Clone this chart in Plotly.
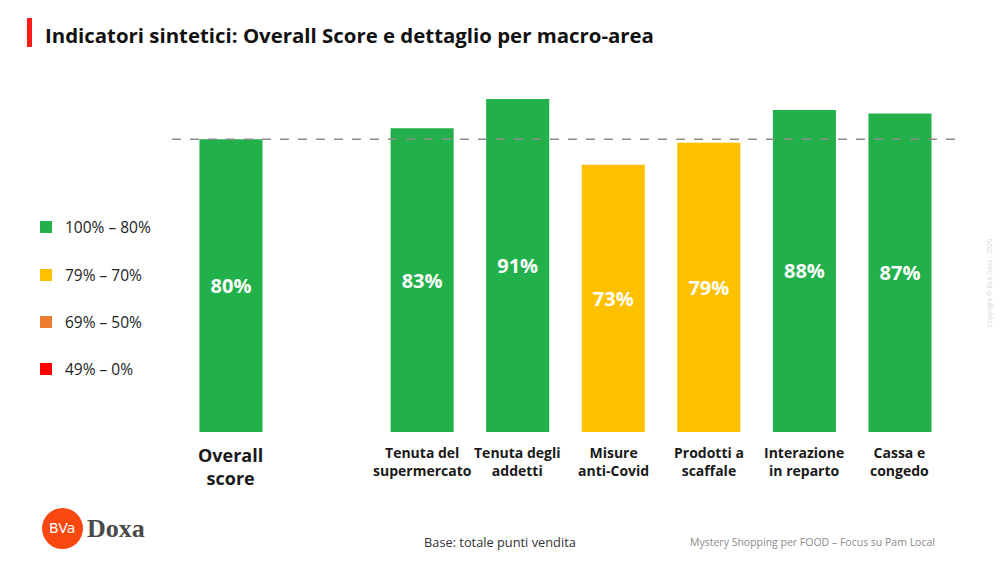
import plotly.graph_objects as go

# ---- data ----
categories = ["Overall score", "Tenuta del supermercato", "Tenuta degli addetti",
              "Misure anti-Covid", "Prodotti a scaffale", "Interazione in reparto",
              "Cassa e congedo"]
label_lines = [["Overall", "score"], ["Tenuta del", "supermercato"], ["Tenuta degli", "addetti"],
               ["Misure", "anti-Covid"], ["Prodotti a", "scaffale"], ["Interazione", "in reparto"],
               ["Cassa e", "congedo"]]
scores = [80, 83, 91, 73, 79, 88, 87]
benchmark = 80
legend_labels = ["100% – 80%", "79% – 70%", "69% – 50%", "49% – 0%"]
legend_colors = ["#22B04B", "#FFC000", "#ED7D31", "#FF0000"]
thresholds = [80, 70, 50, 0]

def color_for(v):
    for t, c in zip(thresholds, legend_colors):
        if v >= t:
            return c
    return legend_colors[-1]

# overall at slot 0, one empty slot, then the macro-areas
xpos = [0] + [i + 1 for i in range(1, len(categories))]

FONT = "Open Sans"
W, H = 1000, 563

fig = go.Figure()
fig.add_trace(go.Bar(
    x=xpos, y=scores, width=0.66,
    marker=dict(color=[color_for(v) for v in scores], line=dict(width=0)),
    text=[f"<b>{v}%</b>" for v in scores],
    textposition="inside", insidetextanchor="middle", textangle=0,
    textfont=dict(family=FONT, size=20, color="white"),
    hoverinfo="skip", cliponaxis=False,
))

shapes = []
annotations = []

# dashed benchmark line
shapes.append(dict(type="line", xref="paper", yref="y", x0=172 / W, x1=960 / W,
                   y0=benchmark, y1=benchmark,
                   line=dict(color="#8C8C8C", width=1.5, dash="dash")))

# category labels under bars
for i, (x, lines) in enumerate(zip(xpos, label_lines)):
    big = (i == 0)
    annotations.append(dict(
        x=x, y=0, xref="x", yref="y", yanchor="top", xanchor="center",
        yshift=-9 if big else -9,
        text="<b>" + "<br>".join(lines) + "</b>", showarrow=False, align="center",
        font=dict(family=FONT, size=18 if big else 14, color="#1A1A1A")))

# legend (manual)
leg_y = [227, 275, 322, 369]
for lab, col, py in zip(legend_labels, legend_colors, leg_y):
    shapes.append(dict(type="rect", xref="paper", yref="paper",
                       x0=40 / W, x1=52 / W, y0=1 - (py + 6) / H, y1=1 - (py - 6) / H,
                       fillcolor=col, line=dict(width=0)))
    annotations.append(dict(x=63 / W, y=1 - py / H, xref="paper", yref="paper",
                            xanchor="left", yanchor="middle", text=lab, showarrow=False,
                            font=dict(family=FONT, size=15.5, color="#222222")))

# title with red bar
shapes.append(dict(type="rect", xref="paper", yref="paper",
                   x0=27 / W, x1=32 / W, y0=1 - 47 / H, y1=1 - 18 / H,
                   fillcolor="#FF1A1A", line=dict(width=0)))
annotations.append(dict(x=43 / W, y=1 - 35 / H, xref="paper", yref="paper",
                        xanchor="left", yanchor="middle",
                        text="<b>Indicatori sintetici: Overall Score e dettaglio per macro-area</b>",
                        showarrow=False, font=dict(family=FONT, size=20.4, color="#111111")))

# footer texts
annotations.append(dict(x=500 / W, y=1 - 542 / H, xref="paper", yref="paper",
                        xanchor="center", yanchor="middle", text="Base: totale punti vendita",
                        showarrow=False, font=dict(family=FONT, size=12.8, color="#333333")))
annotations.append(dict(x=937 / W, y=1 - 542 / H, xref="paper", yref="paper",
                        xanchor="right", yanchor="middle",
                        text="Mystery Shopping per FOOD – Focus su Pam Local",
                        showarrow=False, font=dict(family=FONT, size=10.5, color="#8A8A8A")))
annotations.append(dict(x=990 / W, y=1 - 283 / H, xref="paper", yref="paper",
                        xanchor="center", yanchor="middle", textangle=-90,
                        text="Copyright © BVA Doxa - 2020",
                        showarrow=False, font=dict(family=FONT, size=6.5, color="#D8D8D8")))

# logo
shapes.append(dict(type="circle", xref="paper", yref="paper",
                   x0=42 / W, x1=83 / W, y0=1 - 549 / H, y1=1 - 508 / H,
                   fillcolor="#F9480F", line=dict(width=0)))
annotations.append(dict(x=62 / W, y=1 - 528 / H, xref="paper", yref="paper",
                        xanchor="center", yanchor="middle", text="BVa",
                        showarrow=False, font=dict(family="DejaVu Sans", size=14, color="white")))
annotations.append(dict(x=85 / W, y=1 - 528 / H, xref="paper", yref="paper",
                        xanchor="left", yanchor="middle", text="<b>Doxa</b>",
                        showarrow=False, font=dict(family="Liberation Serif", size=26, color="#4A4A4A")))

fig.update_layout(
    width=W, height=H,
    margin=dict(l=0, r=0, t=0, b=0),
    paper_bgcolor="white", plot_bgcolor="white",
    showlegend=False,
    xaxis=dict(domain=[0.172, 0.96], range=[-0.617, 7.628], visible=False, fixedrange=True),
    yaxis=dict(domain=[(H - 432) / H, (H - 70) / H], range=[0, 98.9], visible=False, fixedrange=True),
    shapes=shapes, annotations=annotations,
    uniformtext=dict(minsize=8, mode="show"),
)

fig.write_html("out.html", config={"displayModeBar": False},
               post_script="document.body.style.margin='0px';")
